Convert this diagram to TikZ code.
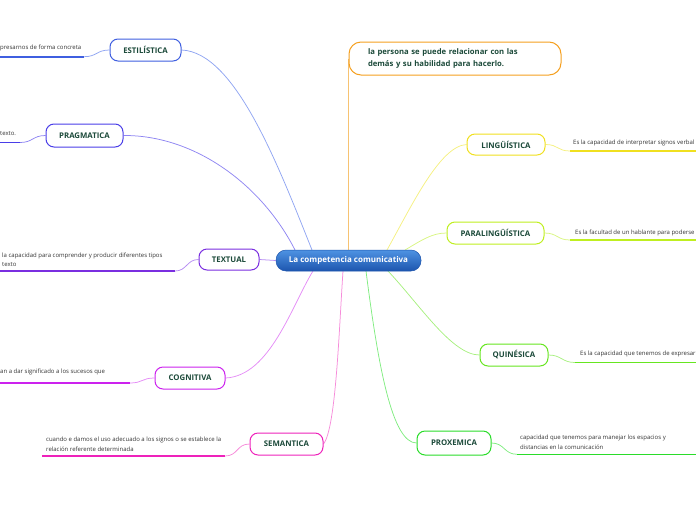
\documentclass[tikz,border=0pt]{standalone}
\usepackage{fontspec}
\setmainfont{Open Sans}
\usetikzlibrary{calc}
\pgfdeclarelayer{bg}
\pgfsetlayers{bg,main}
\definecolor{tg}{HTML}{1C4A3A}
\definecolor{dg}{HTML}{333333}
\definecolor{cEst}{HTML}{3F5FE0}\definecolor{lEst}{HTML}{90A5F2}
\definecolor{cPra}{HTML}{4A3EE8}\definecolor{lPra}{HTML}{8F86F2}
\definecolor{cTex}{HTML}{7A2EE0}\definecolor{lTex}{HTML}{B68CF2}
\definecolor{cCog}{HTML}{CC22EE}\definecolor{lCog}{HTML}{E48CF6}
\definecolor{cSem}{HTML}{EE22BB}\definecolor{lSem}{HTML}{F68CDA}
\definecolor{cTop}{HTML}{F5A020}\definecolor{lTop}{HTML}{F7C372}
\definecolor{cLin}{HTML}{F0E020}\definecolor{lLin}{HTML}{F5F080}
\definecolor{cPar}{HTML}{BFEF20}\definecolor{lPar}{HTML}{D8F580}
\definecolor{cQui}{HTML}{66E620}\definecolor{lQui}{HTML}{A8F080}
\definecolor{cPro}{HTML}{2ADC2A}\definecolor{lPro}{HTML}{80EC80}
\definecolor{cTopB}{HTML}{4E93E3}\definecolor{cBotB}{HTML}{1D55AE}
\tikzset{
  branch/.style={draw=#1, line width=1pt, fill=white, rounded corners=8pt, inner sep=0pt,
    font=\fontsize{7.8}{9}\selectfont\bfseries, text=tg},
  desc/.style={font=\fontsize{6}{9.5}\selectfont, text=dg, anchor=west, inner sep=0pt, align=left},
  link/.style={draw=#1, line width=0.75pt},
  uline/.style={draw=#1, line width=1.6pt},
}
\begin{document}
\begin{tikzpicture}[x=1pt,y=-1pt]
\useasboundingbox (0,0) rectangle (696,520);
% central node
\node[draw=cBotB, line width=0.5pt, rounded corners=10pt, top color=cTopB, bottom color=cBotB, shading angle=0,
  minimum width=145pt, minimum height=21pt, inner sep=0pt, text=white,
  font=\fontsize{8}{9}\selectfont\bfseries] (c) at (348.5,260.5) {La competencia comunicativa};
% top box
\node[branch=cTop, rounded corners=12pt, minimum width=212pt, minimum height=33pt, text width=174pt, align=left,
  font=\fontsize{7.7}{12}\selectfont\bfseries] (top) at (455,58.5) {la persona se puede relacionar con las\\demás y su habilidad para hacerlo.};
% branches
\node[branch=cEst, minimum width=71pt, minimum height=22pt] (est) at (145.5,50) {ESTILÍSTICA};
\node[branch=cPra, minimum width=77pt, minimum height=23pt] (pra) at (84.5,135.5) {PRAGMATICA};
\node[branch=cTex, minimum width=60pt, minimum height=21pt] (tex) at (229,259.5) {TEXTUAL};
\node[branch=cCog, minimum width=70pt, minimum height=22pt] (cog) at (190,378) {COGNITIVA};
\node[branch=cSem, minimum width=73pt, minimum height=22pt] (sem) at (286.5,444) {SEMANTICA};
\node[branch=cLin, minimum width=78pt, minimum height=21pt] (lin) at (506,144.5) {LINGÜÍSTICA};
\node[branch=cPar, minimum width=97pt, minimum height=22pt] (par) at (495.5,233) {PARALINGÜÍSTICA};
\node[branch=cQui, minimum width=68pt, minimum height=22pt] (qui) at (514,355) {QUINÉSICA};
\node[branch=cPro, minimum width=74pt, minimum height=24pt] (pro) at (454,443) {PROXEMICA};
% descriptions
\node[desc] (dEst) at (0,47.5) {presarnos de forma concreta};
\node[desc] (dPra) at (0,134) {texto.};
\node[desc] (dTex) at (2,259.5) {la capacidad para comprender y producir diferentes tipos\\texto};
\node[desc] (dCog) at (0,372) {an a dar significado a los sucesos que};
\node[desc] (dSem) at (46,444) {cuando e damos el uso adecuado a los signos o se establece la\\relación referente determinada};
\node[desc] (dLin) at (573,143) {Es la capacidad de interpretar signos verbal};
\node[desc] (dPar) at (575,232.5) {Es la facultad de un hablante para poderse};
\node[desc] (dQui) at (580,354) {Es la capacidad que tenemos de expresar};
\node[desc] (dPro) at (520,442) {capacidad que tenemos para manejar los espacios y\\distancias en la comunicación};
% underline end points
\coordinate (uEs) at (84,56.7); \coordinate (uEe) at (0,56.7);
\coordinate (uPs) at (20,142.5); \coordinate (uPe) at (0,142.5);
\coordinate (uTs) at (175,271); \coordinate (uTe) at (0,271);
\coordinate (uCs) at (130,383); \coordinate (uCe) at (0,383);
\coordinate (uSs) at (225,456); \coordinate (uSe) at (42,456);
\coordinate (uLs) at (570,151); \coordinate (uLe) at (696,151);
\coordinate (uAs) at (570,240); \coordinate (uAe) at (696,240);
\coordinate (uQs) at (575,362.5); \coordinate (uQe) at (696,362.5);
\coordinate (uRs) at (517,454.3); \coordinate (uRe) at (696,454.3);
\begin{pgfonlayer}{bg}
% center to branches
\draw[link=lEst] (est.east) .. controls (235,52) and (278,165) .. ($(c.center)+(-36.5,-10.5)$);
\draw[link=lPra] (pra.east) .. controls (195,135) and (262,185) .. ($(c.center)+(-53.5,-10.5)$);
\draw[link=lTex] (tex.east) -- (c.west);
\draw[link=lCog] (cog.east) .. controls (270,376) and (292,305) .. ($(c.center)+(-35.5,10.5)$);
\draw[link=lSem] (sem.east) .. controls (336,428) and (339,330) .. ($(c.center)+(-5.5,10.5)$);
\draw[link=lTop] (top.west) -- ($(c.center)+(0,-10.5)$);
\draw[link=lLin] ($(c.center)+(38.5,-10.5)$) .. controls (412,205) and (440,146) .. (lin.west);
\draw[link=lPar] ($(c.center)+(56.5,-10.5)$) .. controls (422,240) and (432,233) .. (par.west);
\draw[link=lQui] ($(c.center)+(39.5,10.5)$) .. controls (420,305) and (452,355) .. (qui.west);
\draw[link=lPro] ($(c.center)+(17.5,10.5)$) .. controls (378,365) and (392,443) .. (pro.west);
% branch to underline
\draw[link=lEst] (est.west) .. controls +(-13,0) and ($(uEs)+(13,0)$) .. (uEs);
\draw[link=lPra] (pra.west) .. controls +(-13,0) and ($(uPs)+(13,0)$) .. (uPs);
\draw[link=lTex] (tex.west) .. controls +(-12,0) and ($(uTs)+(12,0)$) .. (uTs);
\draw[link=lCog] (cog.west) .. controls +(-13,0) and ($(uCs)+(13,0)$) .. (uCs);
\draw[link=lSem] (sem.west) .. controls +(-13,0) and ($(uSs)+(13,0)$) .. (uSs);
\draw[link=lLin] (lin.east) .. controls +(13,0) and ($(uLs)+(-13,0)$) .. (uLs);
\draw[link=lPar] (par.east) .. controls +(13,0) and ($(uAs)+(-13,0)$) .. (uAs);
\draw[link=lQui] (qui.east) .. controls +(13,0) and ($(uQs)+(-13,0)$) .. (uQs);
\draw[link=lPro] (pro.east) .. controls +(13,0) and ($(uRs)+(-13,0)$) .. (uRs);
\end{pgfonlayer}
% underlines
\draw[uline=cEst] (uEs) -- (uEe);
\draw[uline=cPra] (uPs) -- (uPe);
\draw[uline=cTex] (uTs) -- (uTe);
\draw[uline=cCog] (uCs) -- (uCe);
\draw[uline=cSem] (uSs) -- (uSe);
\draw[uline=cLin] (uLs) -- (uLe);
\draw[uline=cPar] (uAs) -- (uAe);
\draw[uline=cQui] (uQs) -- (uQe);
\draw[uline=cPro] (uRs) -- (uRe);
\end{tikzpicture}
\end{document}
